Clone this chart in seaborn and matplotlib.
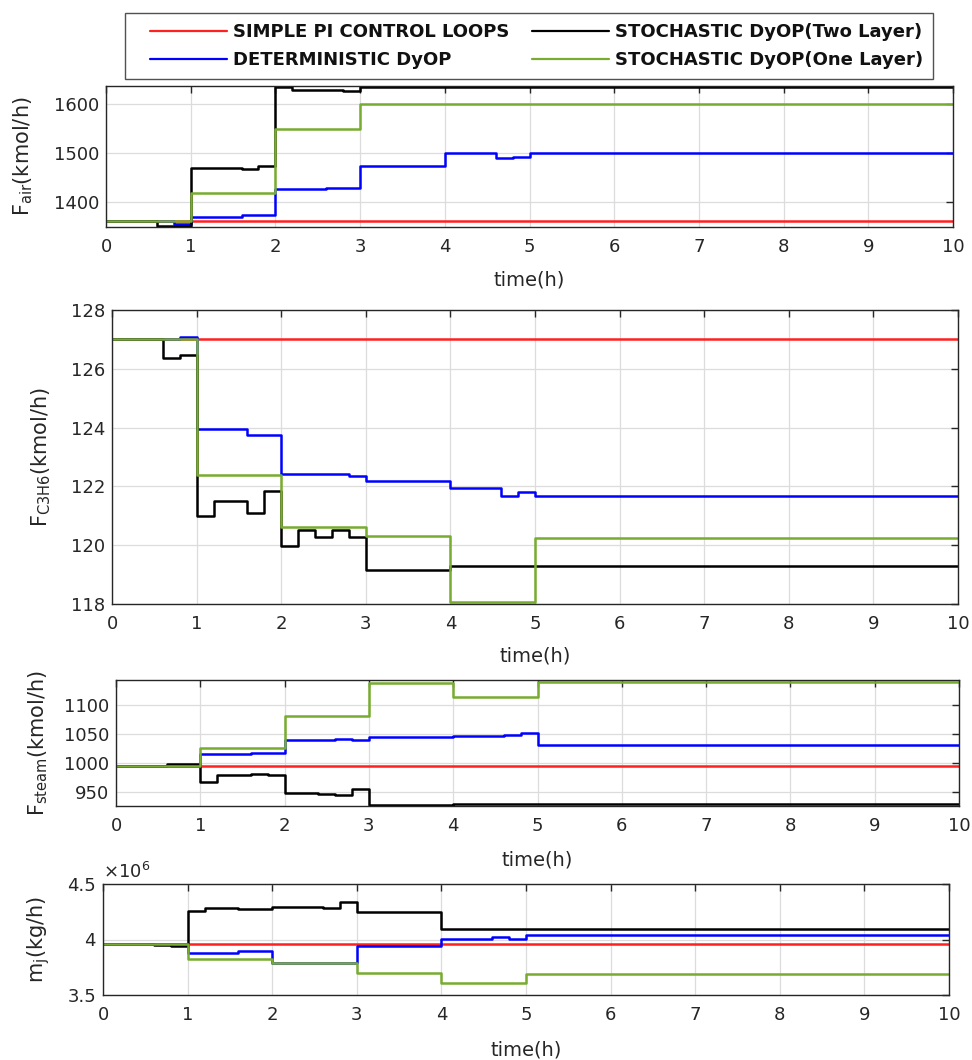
import numpy as np
import pandas as pd
import matplotlib
matplotlib.use("Agg")
import matplotlib.pyplot as plt
from matplotlib.ticker import FuncFormatter, FixedLocator
from matplotlib.lines import Line2D
from matplotlib.legend_handler import HandlerLine2D
import seaborn as sns

# ---------------- data (step breakpoints, steps-post) ----------------
series_names = ["SIMPLE PI CONTROL LOOPS", "DETERMINISTIC DyOP",
                "STOCHASTIC DyOP(Two Layer)", "STOCHASTIC DyOP(One Layer)"]
series_colors = ["#FF2020", "#0000FF", "#000000", "#77AC30"]

# Panel 1: F_air (kmol/h)
air_pi_t = [0, 10]
air_pi_v = [1362, 1362]
air_det_t = [0, 0.8, 1, 1.6, 2, 2.6, 3, 4, 4.6, 4.8, 5, 10]
air_det_v = [1362, 1357, 1371, 1375, 1427, 1430, 1474, 1500, 1491, 1492, 1500, 1500]
air_two_t = [0, 0.6, 1, 1.6, 1.8, 2, 2.2, 2.8, 3, 10]
air_two_v = [1362, 1353, 1470, 1468, 1475, 1634, 1628, 1626, 1634, 1634]
air_one_t = [0, 1, 2, 3, 10]
air_one_v = [1362, 1420, 1550, 1600, 1600]

# Panel 2: F_C3H6 (kmol/h)
c3_pi_t = [0, 10]
c3_pi_v = [127.0, 127.0]
c3_det_t = [0, 0.8, 1, 1.6, 2, 2.8, 3, 4, 4.6, 4.8, 5, 10]
c3_det_v = [127.0, 127.09, 123.95, 123.75, 122.42, 122.34, 122.2, 121.96, 121.69, 121.8, 121.69, 121.69]
c3_two_t = [0, 0.6, 0.8, 1, 1.2, 1.6, 1.8, 2, 2.2, 2.4, 2.6, 2.8, 3, 4, 10]
c3_two_v = [127.0, 126.38, 126.46, 121.0, 121.52, 121.08, 121.85, 119.96, 120.51, 120.29, 120.51, 120.29, 119.16, 119.29, 119.29]
c3_one_t = [0, 1, 2, 3, 4, 5, 10]
c3_one_v = [127.0, 122.4, 120.63, 120.3, 118.08, 120.24, 120.24]

# Panel 3: F_steam (kmol/h)
st_pi_t = [0, 10]
st_pi_v = [994, 994]
st_det_t = [0, 1, 1.6, 2, 2.6, 2.8, 3, 4, 4.6, 4.8, 5, 10]
st_det_v = [994, 1015, 1017, 1040, 1041, 1039, 1044, 1046, 1047, 1052, 1031, 1031]
st_two_t = [0, 0.6, 1, 1.2, 1.6, 1.8, 2, 2.4, 2.6, 2.8, 3, 4, 10]
st_two_v = [994, 997.7, 966, 979, 981, 978.5, 947.4, 946, 943.4, 953.6, 926.4, 929, 929]
st_one_t = [0, 1, 2, 3, 4, 5, 10]
st_one_v = [994, 1025, 1080, 1137, 1114, 1140, 1140]

# Panel 4: m_j (kg/h)
mj_pi_t = [0, 10]
mj_pi_v = [3.961e6, 3.961e6]
mj_det_t = [0, 1, 1.6, 2, 3, 4, 4.6, 4.8, 5, 10]
mj_det_v = [3.961e6, 3.877e6, 3.892e6, 3.784e6, 3.94e6, 4.006e6, 4.027e6, 4.003e6, 4.04e6, 4.04e6]
mj_two_t = [0, 0.6, 0.8, 1, 1.2, 1.6, 2, 2.2, 2.6, 2.8, 3, 4, 10]
mj_two_v = [3.961e6, 3.95e6, 3.937e6, 4.255e6, 4.28e6, 4.273e6, 4.297e6, 4.29e6, 4.285e6, 4.336e6, 4.246e6, 4.094e6, 4.094e6]
mj_one_t = [0, 1, 2, 3, 4, 5, 10]
mj_one_v = [3.961e6, 3.826e6, 3.784e6, 3.697e6, 3.61e6, 3.685e6, 3.685e6]

x_ticks = [0, 1, 2, 3, 4, 5, 6, 7, 8, 9, 10]
air_yticks = [1400, 1500, 1600]
c3_yticks = [118, 120, 122, 124, 126, 128]
st_yticks = [950, 1000, 1050, 1100]
mj_yticks = [3.5e6, 4.0e6, 4.5e6]

panel_ylabels = [r"$\mathregular{F_{air}}$(kmol/h)",
                 r"$\mathregular{F_{C3H6}}$(kmol/h)",
                 r"$\mathregular{F_{steam}}$(kmol/h)",
                 r"$\mathregular{m_{j}}$(kg/h)"]

# ---------------- style ----------------
sns.set_style("white")
plt.rcParams["font.family"] = ["DejaVu Sans"]
plt.rcParams["mathtext.fontset"] = "dejavusans"

TXT = "#262626"

def make_df(ts, vs):
    rows = []
    for name, t, v in zip(series_names, ts, vs):
        for ti, vi in zip(t, v):
            rows.append({"t": ti, "v": vi, "series": name})
    return pd.DataFrame(rows)

panels = [
    (make_df([air_pi_t, air_det_t, air_two_t, air_one_t], [air_pi_v, air_det_v, air_two_v, air_one_v]),
     (1350, 1637), air_yticks, [106, 86, 953, 227], 35, 270),
    (make_df([c3_pi_t, c3_det_t, c3_two_t, c3_one_t], [c3_pi_v, c3_det_v, c3_two_v, c3_one_v]),
     (118, 128), c3_yticks, [112, 310, 958, 604], 53, 646),
    (make_df([st_pi_t, st_det_t, st_two_t, st_one_t], [st_pi_v, st_det_v, st_two_v, st_one_v]),
     (925, 1143), st_yticks, [116, 680, 959, 806], 50, 850),
    (make_df([mj_pi_t, mj_det_t, mj_two_t, mj_one_t], [mj_pi_v, mj_det_v, mj_two_v, mj_one_v]),
     (3.5e6, 4.5e6), mj_yticks, [103, 884, 949, 995], 52, 1040),
]

W, H = 972, 1060
fig = plt.figure(figsize=(W / 100, H / 100), dpi=100)
palette = dict(zip(series_names, series_colors))

for i, (df, ylim, yticks, box, ylab_right, xlab_top) in enumerate(panels):
    l, t, r, b = box
    ax = fig.add_axes([l / W, 1 - b / H, (r - l) / W, (b - t) / H])
    sns.lineplot(data=df, x="t", y="v", hue="series", palette=palette,
                 estimator=None, sort=False, drawstyle="steps-post",
                 linewidth=1.8, legend=False, ax=ax)
    ax.set_xlim(0, 10)
    ax.set_ylim(*ylim)
    ax.xaxis.set_major_locator(FixedLocator(x_ticks))
    ax.yaxis.set_major_locator(FixedLocator(yticks))
    if i == 3:
        ax.yaxis.set_major_formatter(FuncFormatter(lambda v, p: f"{v/1e6:g}"))
        ax.text(0.0, 1.02, r"$\mathregular{\times10^{6}}$", transform=ax.transAxes,
                fontsize=13, color=TXT, ha="left", va="bottom")
    ax.grid(True, color="#dcdcdc", linewidth=0.9)
    ax.set_axisbelow(True)
    for s in ax.spines.values():
        s.set_visible(True)
        s.set_color(TXT)
        s.set_linewidth(1.0)
    ax.tick_params(axis="both", direction="in", length=5, width=1.0, color=TXT,
                   labelcolor=TXT, labelsize=13, top=True, right=True)
    ax.tick_params(axis="x", pad=8)
    ax.tick_params(axis="y", pad=5)
    ax.set_xlabel("time(h)", fontsize=14, color=TXT)
    ax.xaxis.set_label_coords(0.5, (b - xlab_top) / (b - t))
    ax.xaxis.label.set_verticalalignment("top")
    ax.set_ylabel(panel_ylabels[i], fontsize=15, color=TXT)
    ax.yaxis.set_label_coords((ylab_right - l) / (r - l), 0.5)

handles = [Line2D([], [], color=c, linewidth=1.6) for c in series_colors]
leg = fig.legend(handles, series_names, loc="upper center", ncol=2,
                 bbox_to_anchor=(529 / W, 1 - 13 / H), borderaxespad=0,
                 prop={"weight": "bold", "size": 13},
                 frameon=True, fancybox=False, edgecolor=TXT,
                 handlelength=5.1, handletextpad=0.35, columnspacing=0.4,
                 labelspacing=0.55, borderpad=0.55,
                 handler_map={Line2D: HandlerLine2D(xpad=0.85)})
leg.get_frame().set_linewidth(1.0)
for txt in leg.get_texts():
    txt.set_color("#111111")

fig.savefig("out.png", dpi=100, facecolor="white")
